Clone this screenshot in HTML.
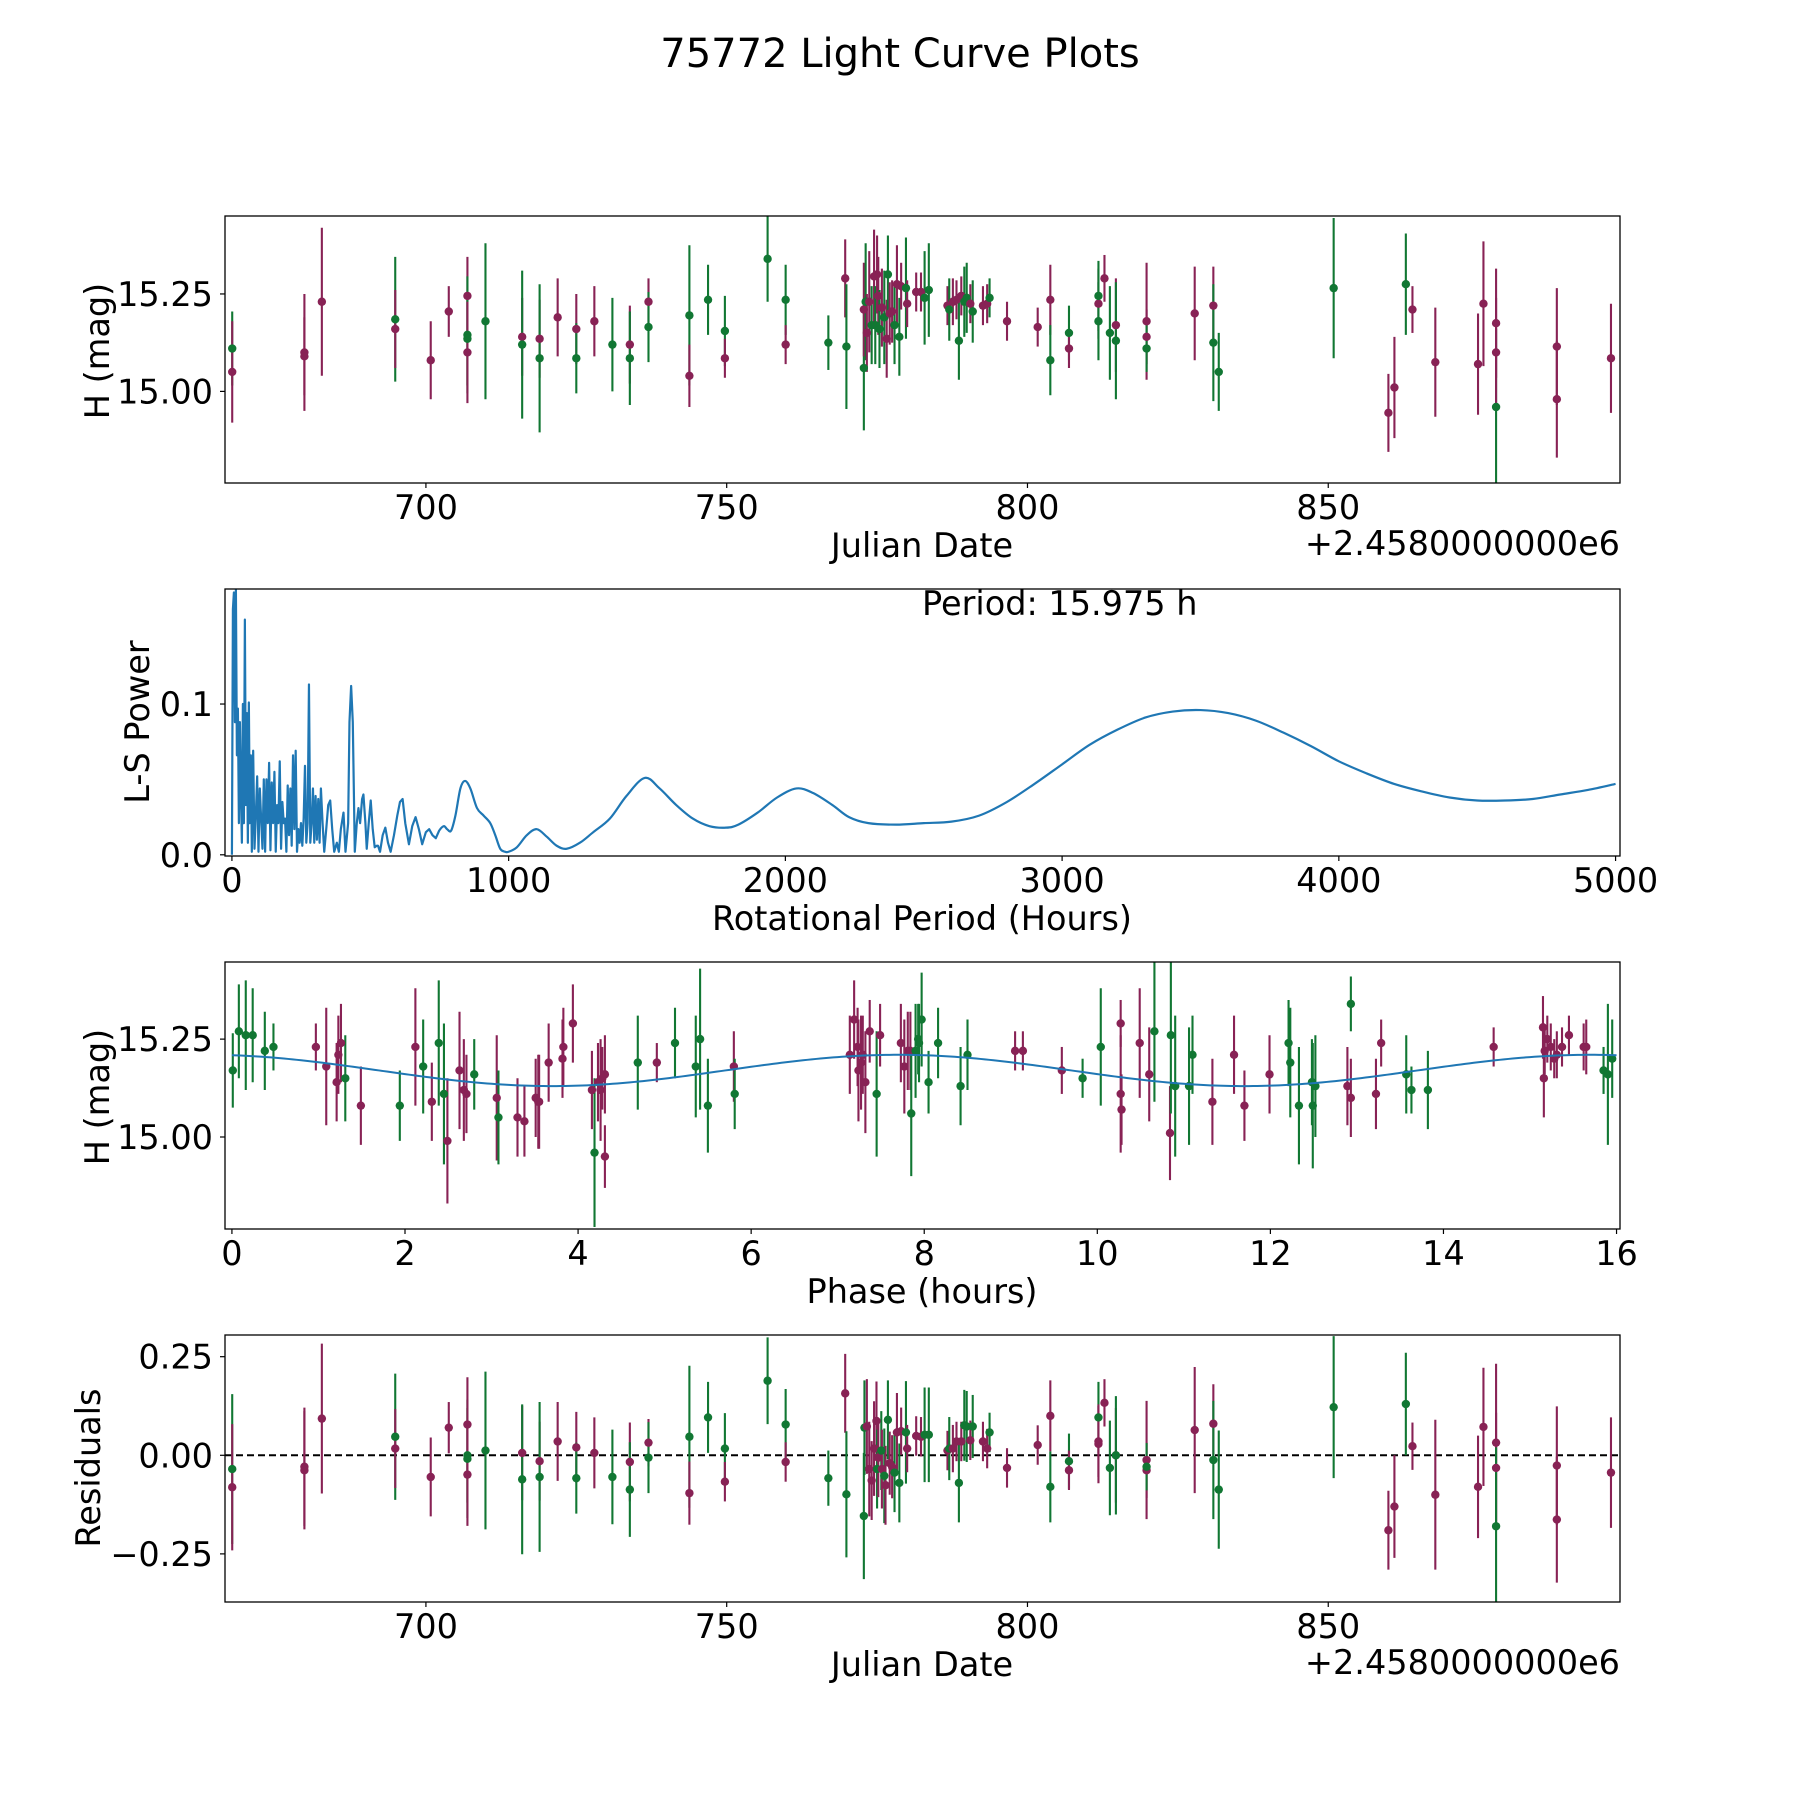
<!DOCTYPE html>
<html><head><meta charset="utf-8"><title>75772 Light Curve Plots</title>
<style>
html,body{margin:0;padding:0;background:#fff;}
svg{display:block;font-family:"DejaVu Sans","Liberation Sans",sans-serif;}
</style></head>
<body>
<svg id="fig" width="1800" height="1800" viewBox="0 0 1800 1800" xmlns="http://www.w3.org/2000/svg">
<rect width="1800" height="1800" fill="#fff"/>
<text x="900" y="67" font-size="40" text-anchor="middle">75772 Light Curve Plots</text>
</svg>
<script>
// ---------- Panel 1: light curve (Julian Date vs H mag) ----------
const lcDates=[667.8,667.8,679.8,679.8,682.7,694.9,694.9,700.8,703.8,706.9,706.9,706.9,706.9,709.9,716.0,716.0,718.9,718.9,721.9,725.0,725.0,728.0,731.0,733.9,733.9,737.0,737.0,743.8,743.8,746.9,749.7,749.7,756.8,759.8,759.8,766.9,769.7,769.9,
772.8,772.8,773.1,773.3,773.7,774.1,774.5,774.7,775.0,775.2,775.4,775.8,776.2,776.6,776.8,777.1,777.5,777.9,778.3,778.7,779.0,779.8,780.0,781.5,782.3,782.9,783.6,786.7,787.0,787.6,788.2,788.6,789.0,789.5,789.9,790.5,790.9,792.6,793.3,793.7,796.6,801.7,803.8,803.8,806.9,806.9,811.8,811.8,811.8,812.8,813.7,814.7,814.7,819.8,819.8,819.8,827.8,830.9,830.9,831.8,850.9,860.0,861.0,862.9,864.0,867.8,874.9,875.8,877.9,877.9,877.9,888.0,888.0,897.0];
const lcMags=[15.11,15.05,15.10,15.09,15.23,15.185,15.16,15.08,15.205,15.245,15.145,15.135,15.10,15.18,15.14,15.12,15.135,15.085,15.19,15.16,15.085,15.18,15.12,15.12,15.085,15.23,15.165,15.195,15.04,15.235,15.155,15.085,15.34,15.235,15.12,15.125,15.29,15.115,
15.06,15.21,15.23,15.15,15.23,15.17,15.295,15.17,15.30,15.245,15.16,15.215,15.19,15.135,15.30,15.20,15.205,15.17,15.275,15.14,15.27,15.265,15.225,15.255,15.255,15.24,15.26,15.22,15.21,15.23,15.235,15.13,15.245,15.23,15.24,15.225,15.205,15.22,15.225,15.24,15.18,15.165,15.235,15.08,15.15,15.11,15.225,15.245,15.18,15.29,15.15,15.17,15.13,15.18,15.14,15.11,15.20,15.22,15.125,15.05,15.265,14.945,15.01,15.275,15.21,15.075,15.07,15.225,14.96,15.175,15.10,15.115,14.98,15.085];
const lcErrs=[0.095,0.13,0.15,0.10,0.19,0.16,0.10,0.10,0.065,0.10,0.15,0.12,0.13,0.20,0.10,0.19,0.10,0.19,0.10,0.09,0.09,0.09,0.12,0.10,0.12,0.06,0.09,0.18,0.08,0.09,0.09,0.05,0.11,0.09,0.05,0.07,0.10,0.16,
0.16,0.12,0.15,0.10,0.13,0.10,0.12,0.10,0.10,0.10,0.10,0.10,0.12,0.10,0.10,0.08,0.08,0.10,0.10,0.10,0.06,0.13,0.06,0.05,0.05,0.12,0.12,0.05,0.08,0.06,0.05,0.10,0.05,0.09,0.09,0.05,0.08,0.05,0.05,0.05,0.05,0.05,0.09,0.09,0.07,0.05,0.09,0.09,0.10,0.06,0.12,0.12,0.15,0.15,0.07,0.06,0.12,0.10,0.15,0.10,0.18,0.10,0.13,0.13,0.06,0.14,0.13,0.16,0.20,0.14,0.14,0.15,0.15,0.14];
const lcFilters=["g","m","m","m","m","g","m","m","m","m","g","g","m","g","m","g","m","g","m","m","g","m","g","m","g","m","g","g","m","g","g","m","g","g","m","g","m","g",
"g","m","g","m","m","g","m","g","m","m","g","m","g","m","g","m","m","g","m","g","m","g","m","m","m","g","g","m","g","m","m","g","m","g","g","m","g","m","m","g","m","m","m","g","g","m","m","g","g","m","g","m","g","m","m","g","m","m","g","g","g","m","m","g","m","m","m","m","g","m","m","m","m","m"];

// ---------- Panel 2: periodogram ----------
const lsPeriods=[0,3.6,7.2,10.8,14.4,18,21.6,25.2,28.8,32.4,36,39.6,43.2,46.8,50.4,54,57.6,61.2,64.8,68.4,72,76.8,81.6,86.4,91.2,96,100.8,105.6,110.4,115.2,120,124.8,129.6,134.4,139.2,144,148.8,153.6,158.4,163.2,168,172.8,177.6,182.4,187.2,192,196.8,201.6,206.4,211.2,216,220.8,225.6,230.4,235.2,240,244.8,249.6,254.4,259.2,264,268.8,273.6,278.4,283.2,288,292.8,297.6,302.4,307.2,312,316.8,321.6,327.6,333.6,340.8,348,355.2,362.4,369.6,379.2,386.4,393.6,403.2,410.4,420,424.8,430.8,436.8,444,451.2,457.2,463.2,470.4,475.2,482.4,487.2,494.4,501.6,508.8,516,523.2,528,535.2,544.8,554.4,564,573.6,585.6,597.6,607.2,616.8,626.4,639.6,651.6,663.6,675.6,687.6,700.8,712.8,724.8,736.8,748.8,765.6,777.6,792,807.6,825.6,842.4,861.6,885.6,909.6,933.6,951.6,969.6,987.6,999.6,1029.6,1065.6,1101.6,1137.6,1173.6,1209.6,1257.6,1305.6,1365.6,1425.6,1491.6,1545.6,1605.6,1665.6,1725.6,1785.6,1830,1900,1970,2040,2100,2170,2230,2300,2400,2500,2600,2700,2800,2900,3000,3100,3200,3300,3400,3500,3600,3700,3800,3900,4000,4100,4200,4300,4400,4500,4600,4700,4800,4900,5000];
const lsPower=[0,0.163,0.174,0.088,0.176,0.066,0.097,0.021,0.088,0.044,0.008,0.10,0.021,0.156,0.033,0.094,0.008,0.101,0.021,0.066,0.002,0.069,0.004,0.026,0.052,0.002,0.044,0.024,0.004,0.050,0.002,0.050,0.021,0.061,0.003,0.048,0.021,0.055,0.002,0.033,0.021,0.062,0.004,0.035,0.021,0.024,0.002,0.046,0.013,0.044,0.006,0.066,0.017,0.069,0.002,0.017,0.008,0.021,0.006,0.024,0.059,0.008,0.021,0.113,0.008,0.021,0.044,0.008,0.039,0.010,0.037,0.008,0.044,0.021,0.002,0.017,0.033,0.036,0.017,0.002,0.008,0.002,0.017,0.028,0.002,0.021,0.088,0.112,0.088,0.002,0.021,0.031,0.021,0.037,0.040,0.021,0.004,0.021,0.036,0.017,0.005,0.006,0.006,0.002,0.013,0.018,0.008,0.002,0.013,0.026,0.035,0.037,0.021,0.007,0.019,0.025,0.017,0.007,0.015,0.017,0.013,0.011,0.016,0.019,0.017,0.016,0.026,0.044,0.049,0.044,0.031,0.026,0.021,0.013,0.004,0.002,0.002,0.005,0.013,0.017,0.012,0.006,0.004,0.008,0.015,0.024,0.039,0.051,0.044,0.033,0.024,0.019,0.018,0.020,0.028,0.038,0.044,0.041,0.033,0.025,0.021,0.020,0.021,0.022,0.026,0.035,0.047,0.060,0.073,0.083,0.091,0.095,0.096,0.094,0.089,0.081,0.072,0.062,0.054,0.047,0.042,0.038,0.036,0.036,0.037,0.040,0.043,0.047];
const bestPeriodLabel="Period: 15.975 h";

// ---------- Panel 3: phased light curve ----------
const phHours=[0.01,0.08,0.16,0.24,0.38,0.48,0.97,1.09,1.21,1.23,1.26,1.31,1.49,1.94,2.12,2.21,2.31,2.39,2.45,2.49,2.63,2.68,2.71,2.80,3.06,3.08,3.30,3.38,3.51,3.54,3.55,3.66,3.82,3.83,3.94,4.16,4.19,4.23,4.26,4.28,4.31,4.31,4.69,4.91,5.12,5.36,5.41,5.50,5.80,5.81,7.14,7.19,7.23,7.24,7.27,7.29,7.32,7.37,7.45,7.49,7.73,7.77,7.81,7.84,7.85,7.90,7.93,7.94,7.97,8.05,8.16,8.42,8.50,9.05,9.14,9.59,9.83,10.04,10.27,10.27,10.28,10.49,10.60,10.66,10.84,10.85,10.90,11.06,11.10,11.33,11.58,11.70,11.99,12.21,12.23,12.33,12.48,12.49,12.52,12.89,12.93,12.93,13.22,13.28,13.57,13.63,13.82,14.58,15.15,15.16,15.17,15.20,15.24,15.28,15.31,15.37,15.45,15.62,15.65,15.85,15.90,15.95];
const phMags=[15.17,15.27,15.26,15.26,15.22,15.23,15.23,15.18,15.14,15.21,15.24,15.15,15.08,15.08,15.23,15.18,15.09,15.24,15.11,14.99,15.17,15.12,15.11,15.16,15.10,15.05,15.05,15.04,15.10,15.09,15.09,15.19,15.20,15.23,15.29,15.12,14.96,15.14,15.12,15.15,15.16,14.95,15.19,15.19,15.24,15.18,15.25,15.08,15.18,15.11,15.21,15.30,15.23,15.17,15.19,15.21,15.14,15.27,15.11,15.26,15.24,15.18,15.22,15.22,15.06,15.22,15.25,15.24,15.30,15.14,15.24,15.13,15.21,15.22,15.22,15.17,15.15,15.23,15.29,15.11,15.07,15.24,15.16,15.27,15.01,15.26,15.13,15.13,15.21,15.09,15.21,15.08,15.16,15.24,15.19,15.08,15.14,15.08,15.13,15.13,15.34,15.10,15.11,15.24,15.16,15.12,15.12,15.23,15.28,15.15,15.22,15.25,15.23,15.20,15.21,15.23,15.26,15.23,15.23,15.17,15.16,15.20];
const phErrs=[0.095,0.12,0.14,0.12,0.10,0.06,0.06,0.15,0.10,0.10,0.10,0.11,0.10,0.09,0.15,0.12,0.10,0.16,0.18,0.16,0.15,0.13,0.10,0.09,0.16,0.12,0.10,0.09,0.10,0.12,0.12,0.10,0.10,0.10,0.10,0.10,0.19,0.10,0.13,0.08,0.10,0.08,0.12,0.05,0.09,0.13,0.18,0.12,0.09,0.09,0.10,0.10,0.10,0.13,0.12,0.10,0.13,0.08,0.16,0.08,0.10,0.12,0.10,0.10,0.16,0.12,0.09,0.10,0.12,0.08,0.09,0.10,0.09,0.05,0.05,0.06,0.05,0.15,0.06,0.15,0.09,0.14,0.12,0.18,0.12,0.20,0.18,0.15,0.10,0.11,0.10,0.09,0.10,0.11,0.14,0.15,0.11,0.16,0.13,0.10,0.07,0.10,0.09,0.06,0.10,0.06,0.10,0.05,0.08,0.10,0.06,0.06,0.06,0.05,0.06,0.05,0.05,0.06,0.07,0.06,0.18,0.10,0.08];
const phFilters=["g","g","g","g","g","g","m","m","m","m","m","g","m","g","m","g","m","g","g","m","m","m","m","g","m","g","m","m","m","m","m","m","m","m","m","m","g","m","m","m","m","m","g","m","g","g","g","g","m","g","m","m","m","m","m","m","m","m","g","m","m","m","m","m","g","g","g","g","g","g","g","g","g","m","m","m","g","g","m","m","m","m","m","g","m","g","g","g","g","m","m","m","m","g","g","g","g","g","g","m","g","m","m","m","g","g","g","m","m","m","m","m","m","m","m","m","m","m","m","g","g","g"];
const modelMean=15.17, modelAmp=0.04, modelPeriod=8.0, modelPeak=7.7;

// ---------- Panel 4: residuals ----------
const resDates=[667.8,667.8,679.8,679.8,682.7,694.9,694.9,700.8,703.8,706.9,706.9,706.9,706.9,709.9,716.0,716.0,718.9,718.9,721.9,725.0,725.0,728.0,731.0,733.9,733.9,737.0,737.0,743.8,743.8,746.9,749.7,749.7,756.8,759.8,759.8,766.9,769.7,769.9,
772.8,772.9,773.3,773.7,774.1,774.5,774.9,775.0,775.2,775.7,775.8,776.2,776.4,776.8,777.1,777.5,777.9,778.3,778.7,779.0,779.8,780.0,781.5,782.3,782.9,783.6,786.7,787.0,787.6,788.2,788.6,789.0,789.5,789.9,790.5,790.9,792.6,793.3,793.7,796.6,801.7,803.8,803.8,806.9,806.9,811.8,811.8,811.8,812.8,813.7,814.7,814.7,819.8,819.8,819.8,827.8,830.9,830.9,831.8,850.9,860.0,861.0,862.9,864.0,867.8,874.9,875.8,877.9,877.9,877.9,888.0,888.0,897.0];
const resVals=[-0.035,-0.081,-0.029,-0.038,0.093,0.047,0.017,-0.055,0.07,0.0,-0.009,0.078,-0.049,0.012,0.006,-0.061,-0.015,-0.055,0.035,0.02,-0.058,0.006,-0.055,-0.017,-0.087,0.032,-0.006,0.047,-0.096,0.096,0.017,-0.067,0.189,0.078,-0.017,-0.058,0.157,-0.099,
-0.154,0.07,0.073,-0.035,-0.064,0.017,0.087,-0.035,-0.006,0.012,-0.035,-0.052,-0.076,0.09,-0.02,-0.029,-0.044,0.058,-0.07,0.061,0.058,0.017,0.049,0.047,0.052,0.052,0.012,0.017,0.017,0.035,-0.07,0.035,0.076,0.073,0.038,0.073,0.035,0.017,0.058,-0.032,0.026,0.10,-0.08,-0.015,-0.038,0.035,0.096,0.029,0.133,-0.032,0.0,0.0,-0.012,-0.038,-0.029,0.064,0.08,-0.012,-0.087,0.122,-0.19,-0.13,0.13,0.023,-0.10,-0.08,0.072,0.032,-0.032,-0.18,-0.026,-0.163,-0.044];
const resErrs=[0.19,0.16,0.15,0.15,0.19,0.16,0.10,0.10,0.065,0.12,0.15,0.12,0.13,0.20,0.12,0.19,0.10,0.19,0.10,0.09,0.09,0.09,0.12,0.10,0.12,0.06,0.09,0.18,0.08,0.09,0.09,0.05,0.11,0.09,0.05,0.07,0.10,0.16,
0.16,0.12,0.12,0.12,0.10,0.12,0.10,0.10,0.10,0.10,0.10,0.12,0.10,0.10,0.08,0.08,0.10,0.10,0.10,0.06,0.13,0.06,0.05,0.05,0.12,0.12,0.05,0.08,0.06,0.05,0.10,0.05,0.09,0.09,0.05,0.08,0.05,0.05,0.05,0.05,0.05,0.09,0.09,0.07,0.05,0.09,0.09,0.10,0.06,0.12,0.12,0.15,0.15,0.07,0.06,0.16,0.10,0.15,0.15,0.18,0.10,0.13,0.13,0.06,0.19,0.13,0.15,0.20,0.14,0.20,0.15,0.16,0.14];
const resFilters=["g","m","m","m","m","g","m","m","m","g","g","m","m","g","m","g","m","g","m","m","g","m","g","m","g","m","g","g","m","g","g","m","g","g","m","g","m","g",
"g","g","m","m","m","m","m","g","m","g","m","g","m","g","m","m","g","m","g","m","g","m","m","m","g","g","m","g","m","m","g","m","g","g","m","g","m","m","g","m","m","m","g","g","m","m","g","m","m","g","m","g","m","m","g","m","m","g","g","g","m","m","g","m","m","m","m","m","m","g","m","m","m"];

// ---------- drawing ----------
const NS="http://www.w3.org/2000/svg";
const svg=document.getElementById('fig');
const COL={m:"#882255",g:"#117733"};
const FS=33.5;
function el(tag,attrs,parent){const e=document.createElementNS(NS,tag);for(const k in attrs)e.setAttribute(k,attrs[k]);(parent||svg).appendChild(e);return e;}
const L=225,R=1620;
function makeAxes(top,bottom,x0,x1,y0,y1,name){
  const g=el('g',{});
  
  
  const ax={g,top,bottom,sx:v=>L+(v-x0)/(x1-x0)*(R-L),sy:v=>bottom-(v-y0)/(y1-y0)*(bottom-top)};
  const cid='clip-'+name;
  const cp=el('clipPath',{id:cid},g);el('rect',{x:L,y:top,width:R-L,height:bottom-top},cp);
  ax.plot=el('g',{'clip-path':'url(#'+cid+')'},g);
  return ax;
}
function frame(ax){el('rect',{x:L,y:ax.top,width:R-L,height:ax.bottom-ax.top,fill:'none',stroke:'#000','stroke-width':1.3},ax.g);}
function xticks(ax,vals,labels,name){
  vals.forEach((v,i)=>{const x=ax.sx(v);
    el('line',{x1:x,x2:x,y1:ax.bottom,y2:ax.bottom+5,stroke:'#000','stroke-width':1.2},ax.g);
    const t=el('text',{x:x,y:ax.bottom+36,'font-size':FS,'text-anchor':'middle'},ax.g);t.textContent=labels[i];
    
    });
}
function yticks(ax,vals,labels,name){
  vals.forEach((v,i)=>{const y=ax.sy(v);
    el('line',{x1:L-5,x2:L,y1:y,y2:y,stroke:'#000','stroke-width':1.2},ax.g);
    const t=el('text',{x:L-12,y:y+12,'font-size':FS,'text-anchor':'end'},ax.g);t.textContent=labels[i];
    
    });
}
function label(x,y,txt,rot,name,anchor){
  const t=el('text',{x:x,y:y,'font-size':FS,'text-anchor':anchor||'middle'});
  if(rot)t.setAttribute('transform','rotate(-90 '+x+' '+y+')');
  t.textContent=txt;
  
  
  return t;
}
function errpoints(ax,xs,ys,es,fs,name){
  for(let i=0;i<xs.length;i++){
    const x=ax.sx(xs[i]),c=COL[fs[i]];
    const ln=el('line',{x1:x,x2:x,y1:ax.sy(ys[i]-es[i]),y2:ax.sy(ys[i]+es[i]),stroke:c,'stroke-width':2.1},ax.plot);
    
    
  }
  for(let i=0;i<xs.length;i++){
    const p=el('circle',{cx:ax.sx(xs[i]),cy:ax.sy(ys[i]),r:4.2,fill:COL[fs[i]]},ax.plot);
    
    
  }
}
const jdTicks=[700,750,800,850];

// Panel 1
const a1=makeAxes(216,483,666.6,898.5,14.765,15.45,'light-curve-panel');
errpoints(a1,lcDates,lcMags,lcErrs,lcFilters,'light-curve');
frame(a1);xticks(a1,jdTicks,["700","750","800","850"],'julian-date');
yticks(a1,[15.0,15.25],["15.00","15.25"],'magnitude');
label(922,557,"Julian Date",false,'x-axis-title-julian-date');
label(1620,555,"+2.4580000000e6",false,'x-axis-offset-text','end');
label(109,351,"H (mag)",true,'y-axis-title-magnitude');

// Panel 2
const a2=makeAxes(589,856,-25,5016,-0.0008,0.1763,'periodogram-panel');
const pts=lsPeriods.map((p,i)=>[a2.sx(p),a2.sy(lsPower[i])]);
let d='M'+pts[0][0].toFixed(2)+' '+pts[0][1].toFixed(2);
for(let i=1;i<pts.length;i++){
  if(lsPeriods[i]<760){d+='L'+pts[i][0].toFixed(2)+' '+pts[i][1].toFixed(2);continue;}
  const p0=pts[i-2]||pts[i-1],p1=pts[i-1],p2=pts[i],p3=pts[i+1]||pts[i];
  const c1x=p1[0]+(p2[0]-p0[0])/6,c1y=p1[1]+(p2[1]-p0[1])/6,c2x=p2[0]-(p3[0]-p1[0])/6,c2y=p2[1]-(p3[1]-p1[1])/6;
  d+='C'+c1x.toFixed(2)+' '+c1y.toFixed(2)+' '+c2x.toFixed(2)+' '+c2y.toFixed(2)+' '+p2[0].toFixed(2)+' '+p2[1].toFixed(2);
}
const pl=el('path',{d:d,fill:'none',stroke:'#1f77b4','stroke-width':2.2,'stroke-linejoin':'round'},a2.plot);


frame(a2);
xticks(a2,[0,1000,2000,3000,4000,5000],["0","1000","2000","3000","4000","5000"],'period');
yticks(a2,[0,0.1],["0.0","0.1"],'power');
label(922,930,"Rotational Period (Hours)",false,'x-axis-title-period');
label(149,722,"L-S Power",true,'y-axis-title-power');
label(922,615,bestPeriodLabel,false,'best-period-annotation','start');

// Panel 3
const a3=makeAxes(962,1229,-0.08,16.04,14.765,15.447,'phase-panel');
errpoints(a3,phHours,phMags,phErrs,phFilters,'phased');
let md='';for(let i=0;i<=320;i++){const t=i*16/320;const m=modelMean+modelAmp*Math.cos(2*Math.PI*(t-modelPeak)/modelPeriod);md+=(i?'L':'M')+a3.sx(t).toFixed(2)+' '+a3.sy(m).toFixed(2);}
const ml=el('path',{d:md,fill:'none',stroke:'#1f77b4','stroke-width':2},a3.plot);


frame(a3);
xticks(a3,[0,2,4,6,8,10,12,14,16],["0","2","4","6","8","10","12","14","16"],'phase');
yticks(a3,[15.0,15.25],["15.00","15.25"],'phase-magnitude');
label(922,1303,"Phase (hours)",false,'x-axis-title-phase');
label(109,1097,"H (mag)",true,'y-axis-title-phase-magnitude');

// Panel 4
const a4=makeAxes(1335,1602,666.6,898.5,-0.372,0.305,'residuals-panel');
const zl=el('line',{x1:L,x2:R,y1:a4.sy(0),y2:a4.sy(0),stroke:'#000','stroke-width':2,'stroke-dasharray':'7,4'},a4.plot);


errpoints(a4,resDates,resVals,resErrs,resFilters,'residual');
frame(a4);
xticks(a4,jdTicks,["700","750","800","850"],'residual-julian-date');
yticks(a4,[-0.25,0,0.25],["\u22120.25","0.00","0.25"],'residual');
label(922,1676,"Julian Date",false,'x-axis-title-residual-julian-date');
label(1620,1674,"+2.4580000000e6",false,'x-axis-offset-text-residuals','end');
label(100,1468,"Residuals",true,'y-axis-title-residuals');
</script>
</body></html>
